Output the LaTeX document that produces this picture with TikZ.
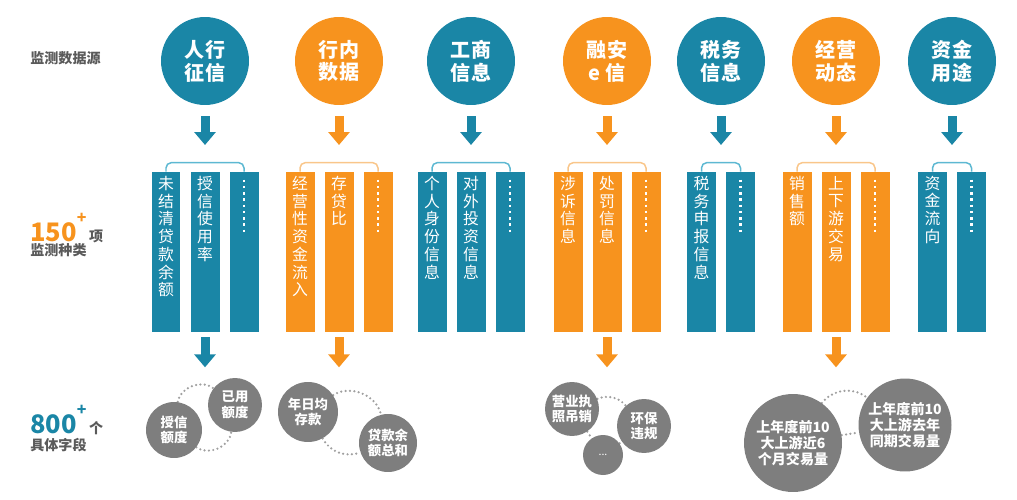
\documentclass[tikz,border=0pt]{standalone}
\usepackage{fontspec}
\setmainfont{Noto Sans CJK SC}
\usetikzlibrary{arrows.meta,calc,backgrounds}
\definecolor{tl}{HTML}{1A86A6}
\definecolor{og}{HTML}{F7931E}
\definecolor{tllt}{HTML}{5DB8D2}
\definecolor{oglt}{HTML}{F9C68A}
\definecolor{gr}{HTML}{7E7E7E}
\definecolor{dk}{HTML}{5A5A5A}
\definecolor{dotgr}{HTML}{A0A0A0}
\tikzset{
  src/.style={circle, fill=#1, minimum size=1.76cm, inner sep=0, text=white, align=center,
    font=\bfseries\fontsize{11.4}{13}\selectfont},
  colbar/.style={rectangle, fill=#1, minimum width=0.58cm, minimum height=3.2cm, inner sep=0},
  coltxt/.style={anchor=north, inner sep=0, text=white, align=center,
    font=\fontsize{9}{10.1}\selectfont},
  brk/.style={draw=#1, line width=0.85pt, rounded corners=3pt},
  blk/.style={draw=#1, line width=0.18cm, -{Triangle[width=0.42cm,length=0.26cm]}},
  dotcol/.style={draw=white, line width=1.4pt, dash pattern=on 1.4pt off 2.15pt},
  fld/.style={circle, fill=gr, inner sep=0, text=white, align=center,
    font=\bfseries\fontsize{7.6}{8.8}\selectfont},
  bigfld/.style={fld, font=\bfseries\fontsize{8}{9.2}\selectfont},
  lnk/.style={draw=dotgr, line width=1.4pt, dash pattern=on 0pt off 2.5pt, line cap=round},
  side/.style={anchor=west, inner sep=0, text=dk, font=\bfseries\fontsize{8}{9.5}\selectfont},
  count/.style={anchor=west, inner sep=0, text=#1, font=\bfseries\fontsize{14.5}{15}\selectfont}
}
\begin{document}
\begin{tikzpicture}[x=0.02cm, y=-0.02cm]
\useasboundingbox (0,0) rectangle (1017,500);

% left column
\node[side] (lbl1) at (30,58) {监测数据源};
\node[count=og] (n150) at (30,228) {150\raisebox{0.72em}{\fontsize{9}{9}\selectfont +}\hspace{1.5pt}{\color{dk}\fontsize{8}{8}\selectfont 项}};
\node[side] (lbl2) at (30,250) {监测种类};
\node[count=tl] (n800) at (30,420) {800\raisebox{0.72em}{\fontsize{9}{9}\selectfont +}\hspace{1.5pt}{\color{dk}\fontsize{8}{8}\selectfont 个}};
\node[side] (lbl3) at (30,445) {具体字段};

% data sources
\node[src=tl] (s1) at (205,61) {人行\\征信};
\node[src=og] (s2) at (339,61) {行内\\数据};
\node[src=tl] (s3) at (471,61) {工商\\信息};
\node[src=og] (s4) at (607,61) {融安\\e 信};
\node[src=tl] (s5) at (721,61) {税务\\信息};
\node[src=og] (s6) at (836,61) {经营\\动态};
\node[src=tl] (s7) at (952,61) {资金\\用途};

% monitoring items
\node[colbar=tl] (b11) at (166,252) {};
\node[colbar=tl] (b12) at (205,252) {};
\node[colbar=tl] (b13) at (244,252) {};
\node[colbar=og] (b21) at (300,252) {};
\node[colbar=og] (b22) at (339,252) {};
\node[colbar=og] (b23) at (378,252) {};
\node[colbar=tl] (b31) at (432,252) {};
\node[colbar=tl] (b32) at (471,252) {};
\node[colbar=tl] (b33) at (510,252) {};
\node[colbar=og] (b41) at (568,252) {};
\node[colbar=og] (b42) at (607,252) {};
\node[colbar=og] (b43) at (646,252) {};
\node[colbar=tl] (b51) at (701.5,252) {};
\node[colbar=tl] (b52) at (740.5,252) {};
\node[colbar=og] (b61) at (797,252) {};
\node[colbar=og] (b62) at (836,252) {};
\node[colbar=og] (b63) at (875,252) {};
\node[colbar=tl] (b71) at (932.5,252) {};
\node[colbar=tl] (b72) at (971.5,252) {};

\node[coltxt] (c11) at ([yshift=-0.08cm]b11.north) {未\\结\\清\\贷\\款\\余\\额};
\node[coltxt] (c12) at ([yshift=-0.08cm]b12.north) {授\\信\\使\\用\\率};
\node[coltxt] (c21) at ([yshift=-0.08cm]b21.north) {经\\营\\性\\资\\金\\流\\入};
\node[coltxt] (c22) at ([yshift=-0.08cm]b22.north) {存\\贷\\比};
\node[coltxt] (c31) at ([yshift=-0.08cm]b31.north) {个\\人\\身\\份\\信\\息};
\node[coltxt] (c32) at ([yshift=-0.08cm]b32.north) {对\\外\\投\\资\\信\\息};
\node[coltxt] (c41) at ([yshift=-0.08cm]b41.north) {涉\\诉\\信\\息};
\node[coltxt] (c42) at ([yshift=-0.08cm]b42.north) {处\\罚\\信\\息};
\node[coltxt] (c51) at ([yshift=-0.08cm]b51.north) {税\\务\\申\\报\\信\\息};
\node[coltxt] (c61) at ([yshift=-0.08cm]b61.north) {销\\售\\额};
\node[coltxt] (c62) at ([yshift=-0.08cm]b62.north) {上\\下\\游\\交\\易};
\node[coltxt] (c71) at ([yshift=-0.08cm]b71.north) {资\\金\\流\\向};

\foreach \b in {b13,b23,b33,b43,b52,b63,b72}
  \draw[dotcol] ([yshift=-0.16cm]\b.north) -- ++(0,52);

\foreach \a/\z/\c in {b11/b13/tllt, b21/b23/oglt, b31/b33/tllt, b41/b43/oglt, b51/b52/tllt, b61/b63/oglt, b71/b72/tllt}
  \draw[brk=\c] (\a.north) -- ++(0,-9) -| (\z.north);

% arrows
\foreach \i/\c in {1/tl, 2/og, 3/tl, 4/og, 5/tl, 6/og, 7/tl} {
  \coordinate (k\i) at ($(s\i)+(0,102)$);
  \draw[blk=\c, shorten <=0.22cm, shorten >=0.36cm] (s\i) -- (k\i);
}
\foreach \b/\i/\c in {b12/1/tl, b22/2/og, b42/4/og, b62/6/og} {
  \coordinate (e\i) at ($(\b.south)+(0,35)$);
  \draw[blk=\c, shorten <=0.1cm] (\b.south) -- (e\i);
}

% fields
\node[fld, minimum size=1.12cm] (f11) at (174,430) {授信\\额度};
\node[fld, minimum size=1.08cm] (f12) at (235,405) {已用\\额度};
\node[fld, minimum size=1.2cm] (f21) at (308,412) {年日均\\存款};
\node[fld, minimum size=1.16cm] (f22) at (388,443) {贷款余\\额总和};
\node[fld, minimum size=1.08cm] (f41) at (572,409) {营业执\\照吊销};
\node[fld, minimum size=1.08cm] (f42) at (644,426) {环保\\违规};
\node[fld, minimum size=0.8cm, font=\fontsize{6}{6}\selectfont] (f43) at (603,455) {...};
\node[bigfld, minimum size=1.96cm] (f61) at (793,443) {上年度前10\\大上游近6\\个月交易量};
\node[bigfld, minimum size=1.86cm] (f62) at (905,425) {上年度前10\\大上游去年\\同期交易量};

\begin{scope}[on background layer]
  \draw[lnk] (f11) to[bend left=60] (f12);
  \draw[lnk] (f11) to[bend right=60] (f12);
  \draw[lnk] (f21) to[bend left=55] (f22);
  \draw[lnk] (f21) to[bend right=40] (f22);
  \draw[lnk] (f41) to[bend left=35] (f42);
  \draw[lnk] (f41) -- (f43);
  \draw[lnk] (f43) -- (f42);
  \draw[lnk] (f61) to[bend left=45] (f62);
  \draw[lnk] (f61) -- (f62);
\end{scope}
\end{tikzpicture}
\end{document}
